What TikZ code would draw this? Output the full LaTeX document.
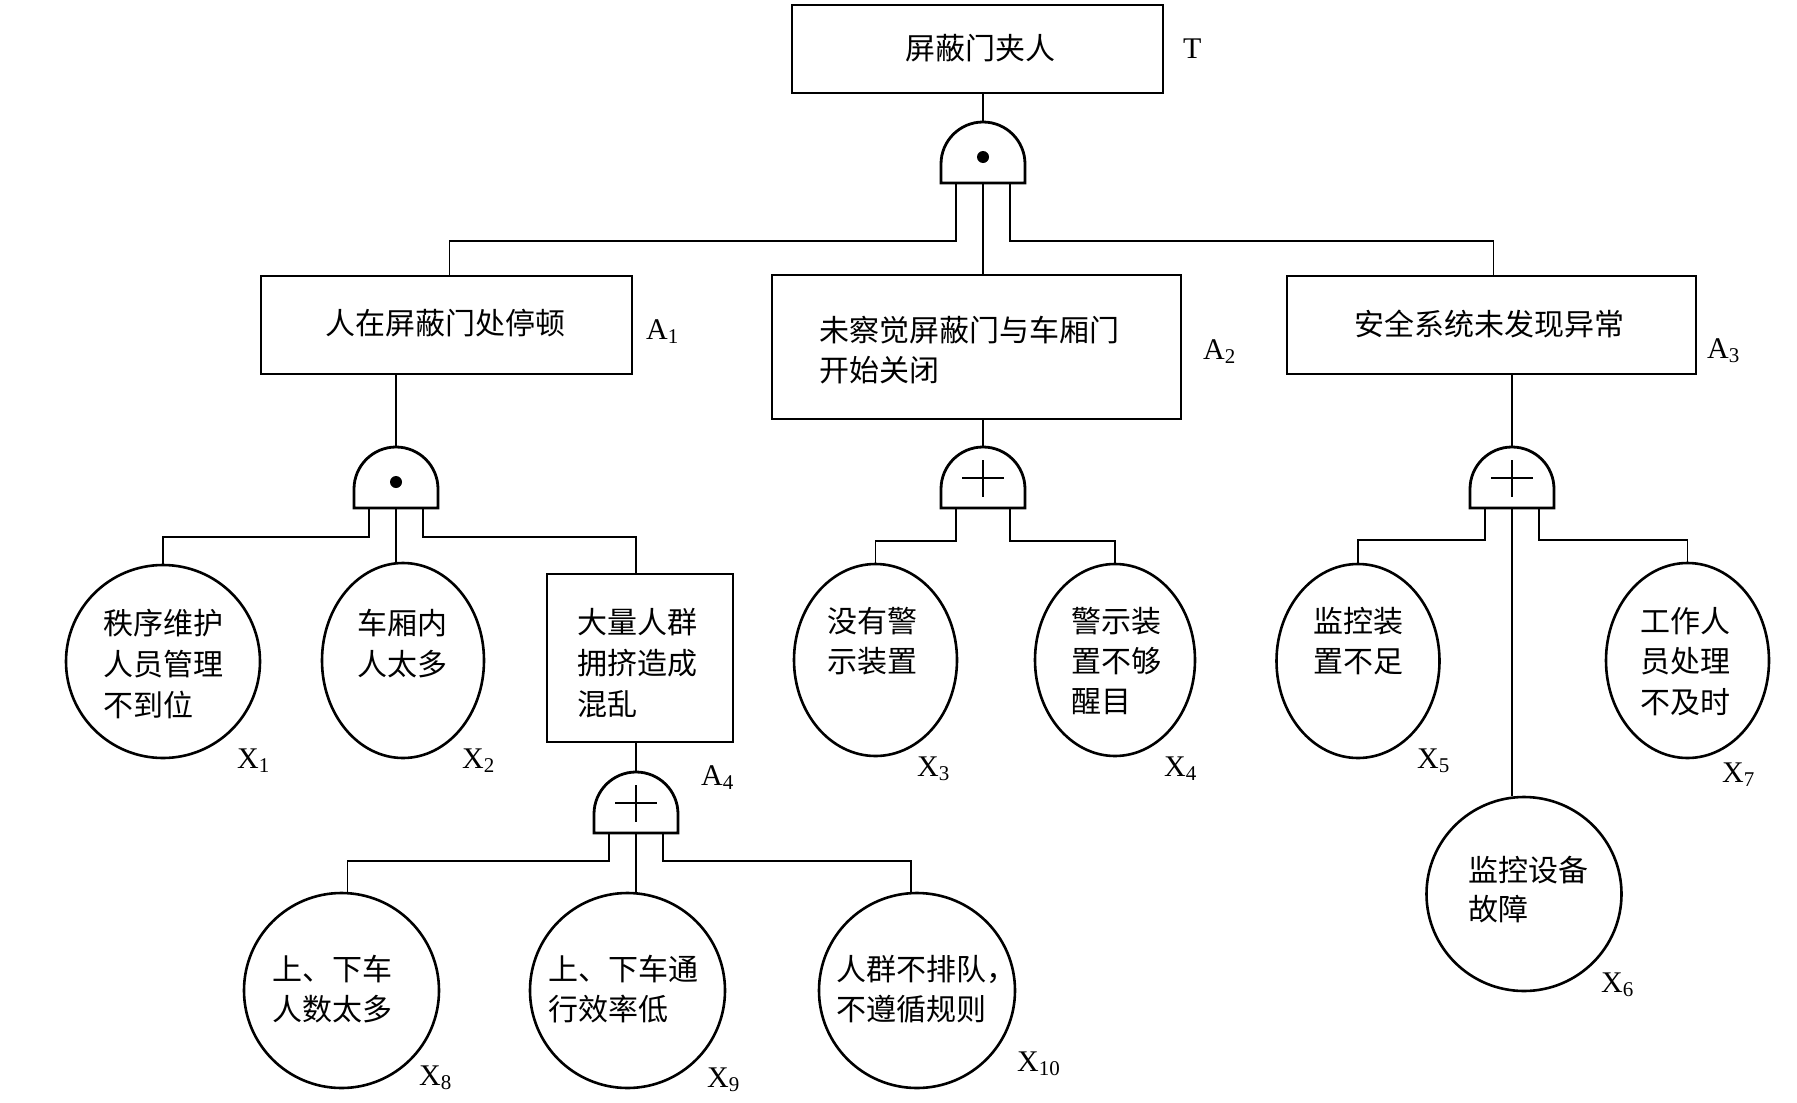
\documentclass[tikz,border=0pt]{standalone}
\usepackage{fontspec}
\setmainfont{Liberation Serif}
\newfontfamily\cjk{Noto Sans CJK SC}
\usetikzlibrary{shapes.geometric}
\newcommand\lsub[1]{\raisebox{-4pt}{\fontsize{21}{21}\selectfont #1}}
\tikzset{
  box/.style={draw, line width=2.8pt, inner sep=0pt, rectangle},
  ev/.style={draw, ellipse, line width=2.6pt, inner sep=0pt},
  conn/.style={line width=1.8pt},
  gateline/.style={line width=2.8pt, line join=miter},
  ln/.style={font=\cjk\fontsize{30}{42}\selectfont, inner sep=0pt, anchor=west, text height=26.4pt, text depth=3.6pt},
  lnc/.style={ln, anchor=center},
  lbl/.style={font=\fontsize{30}{30}\selectfont, inner sep=0pt, anchor=west, text height=19.8pt, text depth=0pt},
  andgate/.pic={
    \draw[gateline] (-42,61) -- (-42,42) arc[start angle=180,end angle=0,radius=42pt] -- (42,61) -- cycle;
    \fill (0,35) circle[radius=6pt];
    \coordinate (-top) at (0,0);
    \coordinate (-l) at (-27,61);
    \coordinate (-m) at (0,61);
    \coordinate (-r) at (27,61);
  },
  orgate/.pic={
    \draw[gateline] (-42,61) -- (-42,42) arc[start angle=180,end angle=0,radius=42pt] -- (42,61) -- cycle;
    \draw[line width=2pt] (-21,31) -- (21,31) (0,13) -- (0,50);
    \coordinate (-top) at (0,0);
    \coordinate (-l) at (-27,61);
    \coordinate (-m) at (0,61);
    \coordinate (-r) at (27,61);
  }
}
\begin{document}
\begin{tikzpicture}[x=1pt,y=-1pt]
\fill[white] (0,0) rectangle (1797,1103);
\useasboundingbox (0,0) rectangle (1797,1103);

% boxes
\node[box, minimum width=371pt, minimum height=88pt] (t) at (977.5,49) {};
\node[box, minimum width=371pt, minimum height=98pt] (a1) at (446.5,325) {};
\node[box, minimum width=409pt, minimum height=144pt] (a2) at (976.5,347) {};
\node[box, minimum width=409pt, minimum height=98pt] (a3) at (1491.5,325) {};
\node[box, minimum width=186pt, minimum height=168pt] (a4) at (640,658) {};

% events
\node[ev, minimum width=194pt, minimum height=193pt] (x1) at (163,661.5) {};
\node[ev, minimum width=162pt, minimum height=195pt] (x2) at (403,660.5) {};
\node[ev, minimum width=163pt, minimum height=192pt] (x3) at (875.5,660) {};
\node[ev, minimum width=160pt, minimum height=192pt] (x4) at (1115,660) {};
\node[ev, minimum width=163pt, minimum height=194pt] (x5) at (1358,661) {};
\node[ev, minimum width=195pt, minimum height=194pt] (x6) at (1524,894) {};
\node[ev, minimum width=163pt, minimum height=195pt] (x7) at (1687.5,660.5) {};
\node[ev, minimum width=195pt, minimum height=195pt] (x8) at (341.5,990.5) {};
\node[ev, minimum width=195pt, minimum height=195pt] (x9) at (627.5,990.5) {};
\node[ev, minimum width=196pt, minimum height=195pt] (x10) at (917,990.5) {};

% gates
\pic (g0) at (983,122) {andgate};
\pic (g1) at (396,447) {andgate};
\pic (g2) at (983,447) {orgate};
\pic (g3) at (1512,447) {orgate};
\pic (g4) at (636,772) {orgate};

% connectors
\draw[conn] (g0-top) -- (g0-top |- t.south);
\draw[conn] (g0-l) -- ++(0,58) -| ([xshift=3pt]a1.north);
\draw[conn] (g0-m) -- (g0-m |- a2.north);
\draw[conn] (g0-r) -- ++(0,58) -| ([xshift=2pt]a3.north);

\draw[conn] (g1-top) -- (g1-top |- a1.south);
\draw[conn] (g1-l) -- ++(0,29) -| (x1.north);
\draw[conn] (g1-m) -- (g1-m |- x2.north);
\draw[conn] (g1-r) -- ++(0,29) -| (g4-top |- a4.north);

\draw[conn] (g2-top) -- (g2-top |- a2.south);
\draw[conn] (g2-l) -- ++(0,33) -| (x3.north);
\draw[conn] (g2-r) -- ++(0,33) -| (x4.north);

\draw[conn] (g3-top) -- (g3-top |- a3.south);
\draw[conn] (g3-l) -- ++(0,32) -| (x5.north);
\draw[conn] (g3-m) -- (g3-m |- x6.north);
\draw[conn] (g3-r) -- ++(0,32) -| (x7.north);

\draw[conn] (g4-top) -- (g4-top |- a4.south);
\draw[conn] (g4-l) -- ++(0,28) -| ([xshift=6pt]x8.north);
\draw[conn] (g4-m) -- (g4-m |- x9.north);
\draw[conn] (g4-r) -- ++(0,28) -| ([xshift=-6pt]x10.north);

% texts
\node[lnc] (tt) at (980,48) {屏蔽门夹人};
\node[lnc] (ta1) at (445,323) {人在屏蔽门处停顿};
\node[ln] (ta2a) at (819,330) {未察觉屏蔽门与车厢门};
\node[ln] (ta2b) at (819,370) {开始关闭};
\node[lnc] (ta3) at (1489,324) {安全系统未发现异常};
\node[ln] (ta4a) at (577,622) {大量人群};
\node[ln] (ta4b) at (577,663) {拥挤造成};
\node[ln] (ta4c) at (577,704) {混乱};
\node[ln] (tx1a) at (103,623) {秩序维护};
\node[ln] (tx1b) at (103,664) {人员管理};
\node[ln] (tx1c) at (103,705) {不到位};
\node[ln] (tx2a) at (357,623) {车厢内};
\node[ln] (tx2b) at (357,664) {人太多};
\node[ln] (tx3a) at (827,621) {没有警};
\node[ln] (tx3b) at (827,661) {示装置};
\node[ln] (tx4a) at (1071,621) {警示装};
\node[ln] (tx4b) at (1071,661) {置不够};
\node[ln] (tx4c) at (1071,701) {醒目};
\node[ln] (tx5a) at (1313,621) {监控装};
\node[ln] (tx5b) at (1313,661) {置不足};
\node[ln] (tx6a) at (1468,870) {监控设备};
\node[ln] (tx6b) at (1468,909) {故障};
\node[ln] (tx7a) at (1640,621) {工作人};
\node[ln] (tx7b) at (1640,661) {员处理};
\node[ln] (tx7c) at (1640,702) {不及时};
\node[ln] (tx8a) at (272,969) {上、下车};
\node[ln] (tx8b) at (272,1009) {人数太多};
\node[ln] (tx9a) at (548,969) {上、下车通};
\node[ln] (tx9b) at (548,1009) {行效率低};
\node[ln] (tx10a) at (836,969) {人群不排队，};
\node[ln] (tx10b) at (836,1009) {不遵循规则};

% labels
\node[lbl] (lt) at (1183,49) {T};
\node[lbl] (la1) at (646,330) {A\lsub{1}};
\node[lbl] (la2) at (1203,350) {A\lsub{2}};
\node[lbl] (la3) at (1707,349) {A\lsub{3}};
\node[lbl] (la4) at (701,776) {A\lsub{4}};
\node[lbl] (lx1) at (237,759) {X\lsub{1}};
\node[lbl] (lx2) at (462,759) {X\lsub{2}};
\node[lbl] (lx3) at (917,767) {X\lsub{3}};
\node[lbl] (lx4) at (1164,767) {X\lsub{4}};
\node[lbl] (lx5) at (1417,759) {X\lsub{5}};
\node[lbl] (lx6) at (1601,983) {X\lsub{6}};
\node[lbl] (lx7) at (1722,773) {X\lsub{7}};
\node[lbl] (lx8) at (419,1076) {X\lsub{8}};
\node[lbl] (lx9) at (707,1078) {X\lsub{9}};
\node[lbl] (lx10) at (1017,1062) {X\lsub{10}};
\end{tikzpicture}
\end{document}
